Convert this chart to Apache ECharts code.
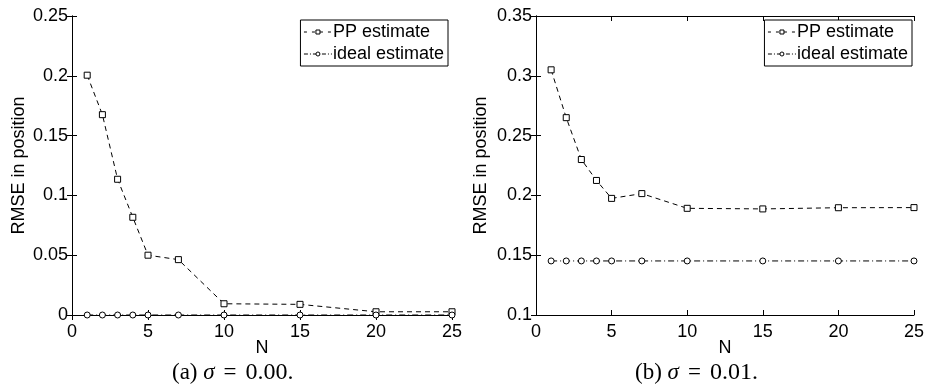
<!DOCTYPE html>
<html>
<head>
<meta charset="utf-8">
<script src="https://cdn.jsdelivr.net/npm/echarts@6/dist/echarts.min.js"></script>
<style>
  html, body { margin: 0; padding: 0; background: #fff; }
  #main { width: 927px; height: 385px; }
</style>
</head>
<body>
<div id="main"></div>
<script>
// sample counts N
const nValues = [1, 2, 3, 4, 5, 7, 10, 15, 20, 25];
// (a) sigma = 0.00
const ppA = [0.2005, 0.1675, 0.1135, 0.0817, 0.0500, 0.0463, 0.0094, 0.0089, 0.0027, 0.0027];
const idealA = [0, 0, 0, 0, 0, 0, 0, 0, 0, 0];
// (b) sigma = 0.01
const ppB = [0.305, 0.265, 0.230, 0.2125, 0.1975, 0.2015, 0.1892, 0.1887, 0.1897, 0.1898];
const idealB = [0.1452, 0.1452, 0.1452, 0.1452, 0.1452, 0.1452, 0.1452, 0.1452, 0.1452, 0.1452];

const pairs = (ys) => nValues.map((n, i) => [n, ys[i]]);

const FONT = 'Liberation Sans';
const SERIF = 'Liberation Serif';
const ppStyle = { color: '#000', width: 1, type: [5, 4] };
const idealStyle = { color: '#000', width: 1, type: [6, 3, 1, 3] };

let myChart = echarts.init(document.getElementById('main'));

const frameX = (grid, show) => ({
  type: 'value', gridIndex: grid, min: 0, max: 25, interval: 5,
  position: show ? 'bottom' : 'top',
  name: show ? 'N' : '', nameLocation: 'middle', nameGap: 24,
  nameMoveOverlap: false,
  nameTextStyle: { fontFamily: FONT, fontSize: 18, color: '#000' },
  axisLine: { show: true, lineStyle: { color: '#000', width: 1 } },
  axisTick: { show: true, inside: true, length: 5, lineStyle: { color: '#000' } },
  axisLabel: { show: show, fontFamily: FONT, fontSize: 18, color: '#000', margin: 8 },
  splitLine: { show: false },
});

const frameY = (grid, show, min, max) => ({
  type: 'value', gridIndex: grid, min: min, max: max, interval: 0.05,
  position: show ? 'left' : 'right',
  name: show ? 'RMSE in position' : '', nameLocation: 'middle', nameRotate: 90,
  nameGap: grid === 0 ? 44 : 46,
  nameTextStyle: { fontFamily: FONT, fontSize: 18, color: '#000' },
  axisLine: { show: true, lineStyle: { color: '#000', width: 1 } },
  axisTick: { show: true, inside: true, length: 5, lineStyle: { color: '#000' } },
  axisLabel: {
    show: show, fontFamily: FONT, fontSize: 18, color: '#000', margin: 4,
    formatter: (v) => String(parseFloat(v.toFixed(2))),
  },
  splitLine: { show: false },
});

const legendItem = (name, type) => ({
  name: name,
  lineStyle: { color: '#000', width: 1, type: type },
  itemStyle: { color: '#fff', borderColor: '#000', borderWidth: 1 },
});

const legendBox = (right) => ({
  right: right, top: 20, orient: 'vertical',
  data: [legendItem('PP estimate', [3, 5]), legendItem('ideal estimate', [4, 2, 1, 2])],
  backgroundColor: '#fff', borderColor: '#000', borderWidth: 1,
  padding: [3, 4, 3, 3], itemGap: 4, itemWidth: 28, itemHeight: 5,
  textStyle: { fontFamily: FONT, fontSize: 18, color: '#000', padding: [0, 0, 0, -4] },
  selectedMode: false,
});

const series = (name, grid, ys, symbol, style) => ({
  name: name, type: 'line', xAxisIndex: grid * 2, yAxisIndex: grid * 2,
  data: pairs(ys), symbol: symbol, symbolSize: 6, showSymbol: true,
  clip: false, lineStyle: style,
  itemStyle: { color: '#fff', borderColor: '#000', borderWidth: 1 },
  emphasis: { disabled: true }, z: 3,
});

const caption = (left, tag, val) => ({
  type: 'text', left: left, top: 361,
  style: {
    text: '{t|' + tag + ' }{i|σ}{eq|=}{n|' + val + '}', fill: '#000',
    rich: {
      t: { fontFamily: SERIF, fontSize: 23, lineHeight: 24 },
      i: { fontStyle: 'italic', fontFamily: SERIF, fontSize: 23, lineHeight: 24 },
      eq: { fontFamily: SERIF, fontSize: 23, lineHeight: 24, padding: [0, 9, 0, 9] },
      n: { fontFamily: SERIF, fontSize: 24, lineHeight: 24 },
    },
  },
});

myChart.setOption({
  animation: false,
  grid: [
    { left: 72, right: 475, top: 16, bottom: 70 },
    { left: 536, right: 11, top: 16, bottom: 70 },
  ],
  xAxis: [frameX(0, true), frameX(0, false), frameX(1, true), frameX(1, false)],
  yAxis: [
    frameY(0, true, 0, 0.25), frameY(0, false, 0, 0.25),
    frameY(1, true, 0.1, 0.35), frameY(1, false, 0.1, 0.35),
  ],
  legend: [legendBox(479), legendBox(15)],
  series: [
    series('PP estimate', 0, ppA, 'rect', ppStyle),
    series('ideal estimate', 0, idealA, 'circle', idealStyle),
    series('PP estimate', 1, ppB, 'rect', ppStyle),
    series('ideal estimate', 1, idealB, 'circle', idealStyle),
  ],
  graphic: [
    caption(172, '(a)', '0.00.'),
    caption(635, '(b)', '0.01.'),
  ],
});
</script>
</body>
</html>
